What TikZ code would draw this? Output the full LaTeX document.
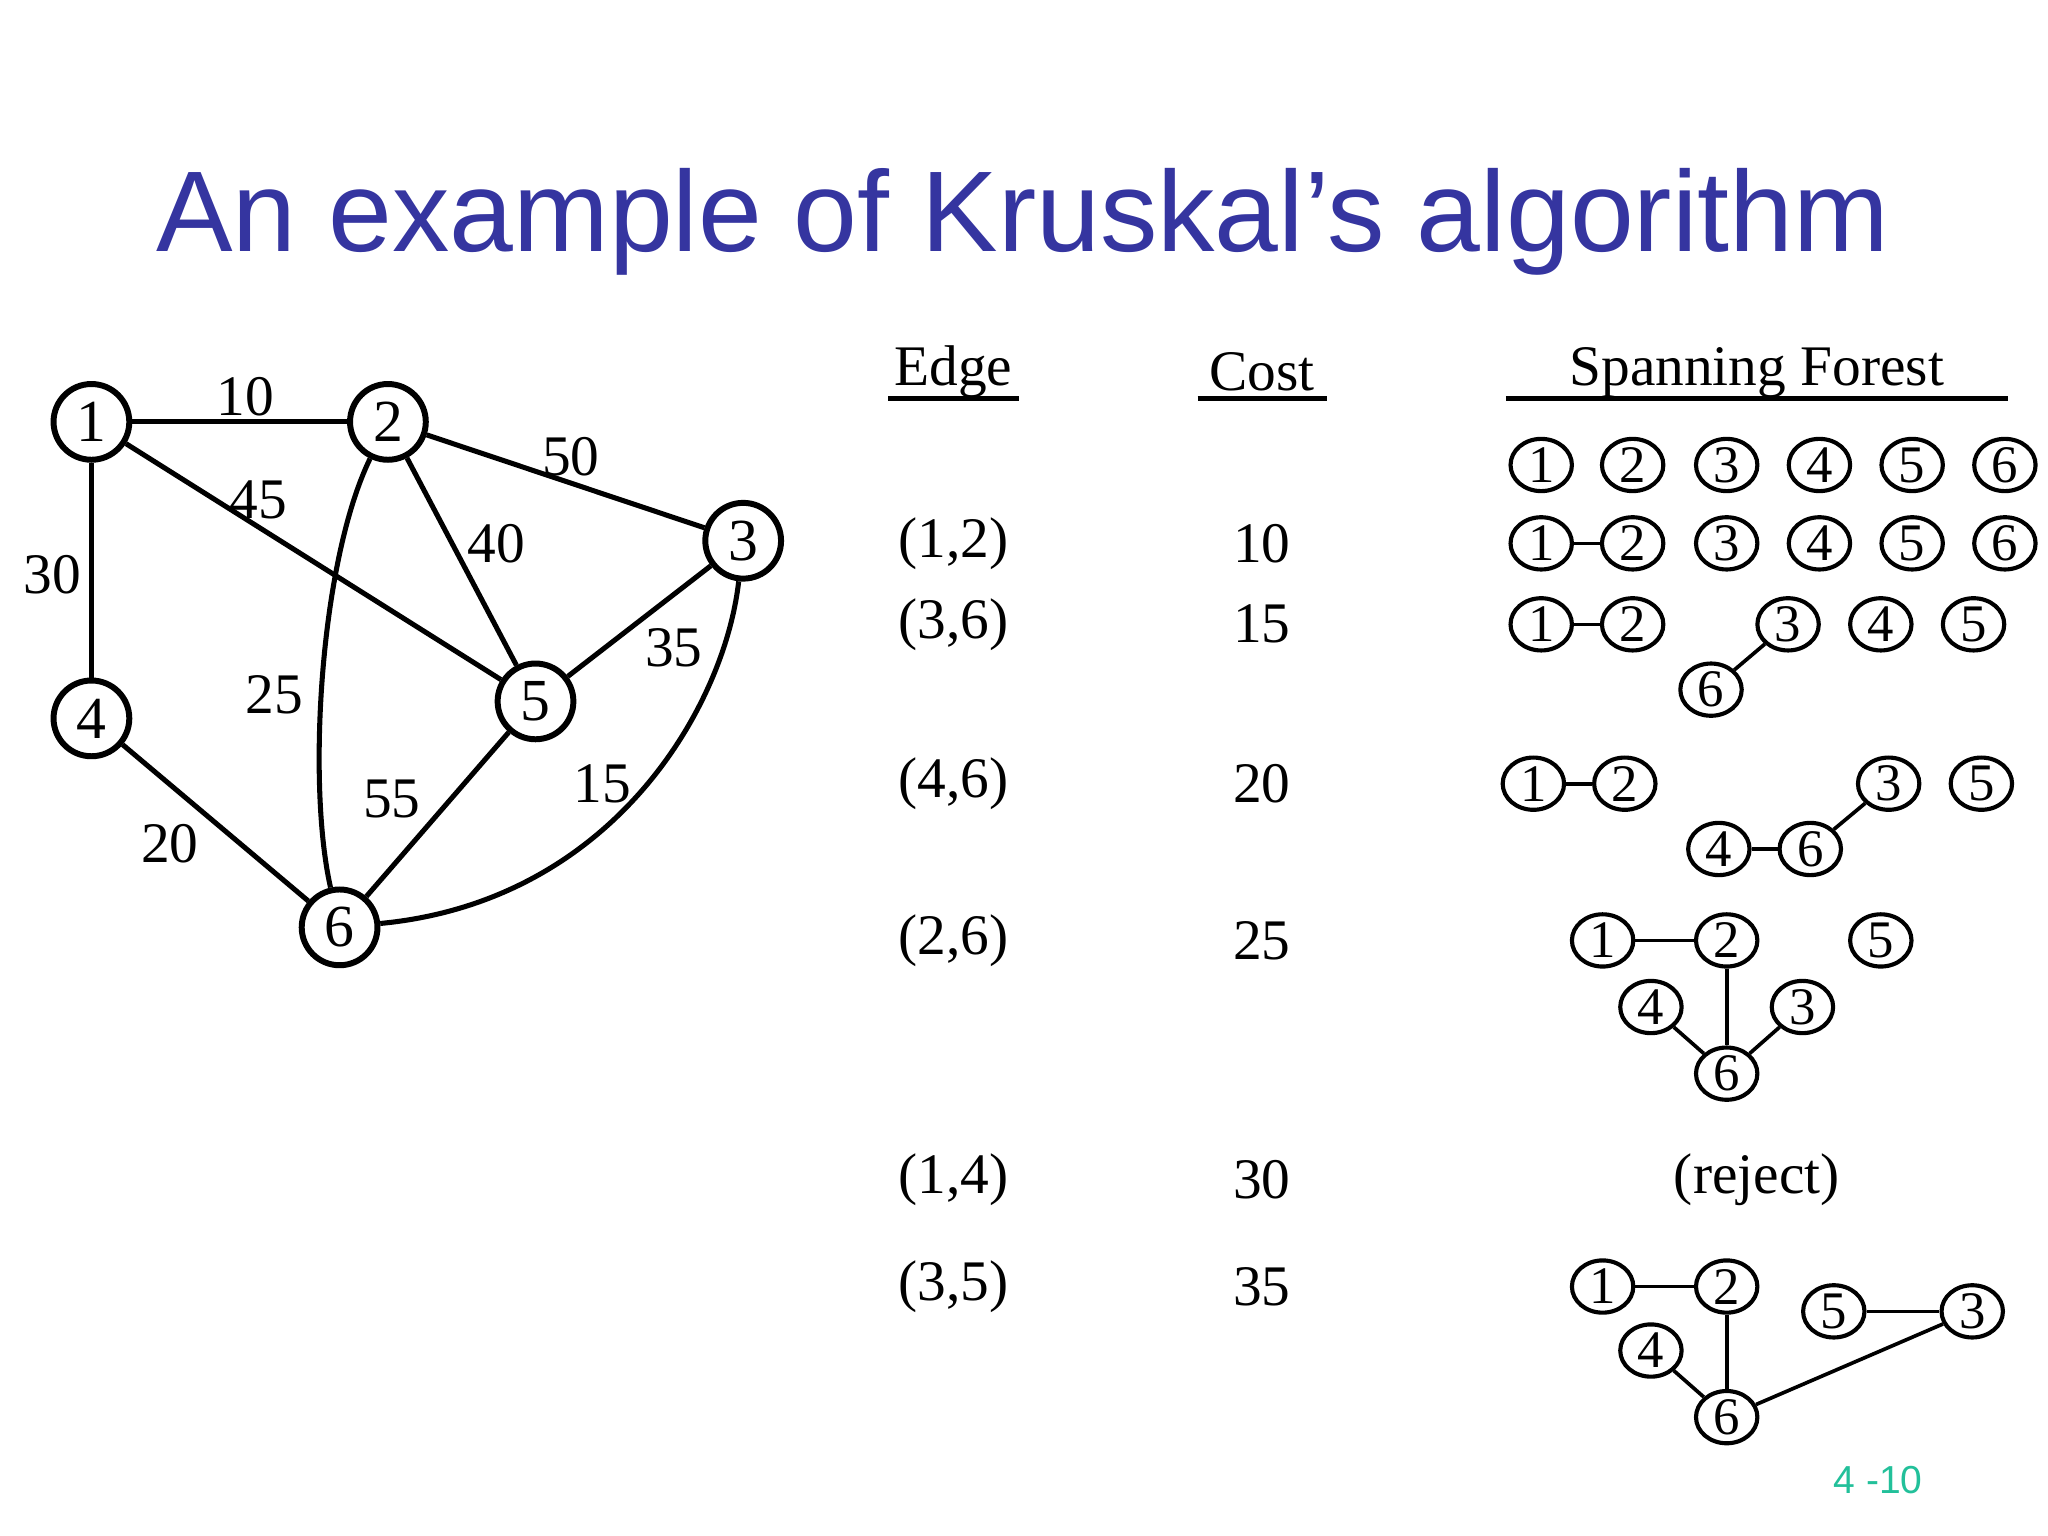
\documentclass[tikz,border=0pt]{standalone}
\usepackage{fontspec}
\usetikzlibrary{shapes.geometric}
\setmainfont{Liberation Serif}
\newfontfamily\titlefont{Liberation Sans}
\definecolor{titleblue}{HTML}{3535A0}
\definecolor{pagegreen}{HTML}{22C09A}
\begin{document}
\begin{tikzpicture}[x=0.1mm,y=-0.1mm,
  gnode/.style={circle,draw,line width=1.3pt,minimum size=5.8mm,inner sep=0pt,font=\fontsize{13}{13}\selectfont},
  gedge/.style={line width=1.1pt},
  wlab/.style={font=\fontsize{12.5}{13}\selectfont},
  fnode/.style={ellipse,draw,line width=0.9pt,minimum width=4.7mm,minimum height=4.0mm,inner sep=0pt,font=\fontsize{11.5}{12}\selectfont},
  fedge/.style={line width=0.8pt},
  ttext/.style={font=\fontsize{12.5}{13}\selectfont},
  hdr/.style={font=\fontsize{12.5}{13}\selectfont}]
\useasboundingbox (0,0) rectangle (1568,1176);
\fill[white] (0,0) rectangle (1568,1176);
\node[text=titleblue,font=\titlefont\fontsize{25}{26}\selectfont] (title) at (783,170) {An example of Kruskal’s algorithm};
% graph
\node[gnode] (g1) at (70,323) {1};
\node[gnode] (g2) at (297,323) {2};
\node[gnode] (g3) at (569,414) {3};
\node[gnode] (g4) at (70,550) {4};
\node[gnode] (g5) at (410,537) {5};
\node[gnode] (g6) at (260,710) {6};
\draw[gedge] (g1) -- (g2);
\draw[gedge] (g2) -- (g3);
\draw[gedge] (g1) -- (g5);
\draw[gedge] (g2) -- (g5);
\draw[gedge] (g1) -- (g4);
\draw[gedge] (g5) -- (g3);
\draw[gedge] (g5) -- (g6);
\draw[gedge] (g4) -- (g6);
\draw[gedge] (g2) .. controls (245,430) and (235,600) .. (g6);
\draw[gedge] (g3) .. controls (555,540) and (470,690) .. (g6);
\node[wlab] (w10) at (188,304) {10};
\node[wlab] (w50) at (437,350) {50};
\node[wlab] (w45) at (198,383) {45};
\node[wlab] (w40) at (380,416) {40};
\node[wlab] (w30) at (40,440) {30};
\node[wlab] (w25) at (210,532) {25};
\node[wlab] (w35) at (516,496) {35};
\node[wlab] (w55) at (300,612) {55};
\node[wlab] (w15) at (461,600) {15};
\node[wlab] (w20) at (130,646) {20};
% headers
\node[hdr] (hE) at (730,285) {Edge};
\node[hdr] (hC) at (966,285) {Cost};
\node[hdr] (hS) at (1345,285) {Spanning Forest};
\draw[line width=1.2pt] (680,305) -- (780,305);
\draw[line width=1.2pt] (917,305) -- (1016,305);
\draw[line width=1.2pt] (1153,305) -- (1537,305);
% rows
\foreach \e/\c/\y [count=\i] in {(1{,}2)/10/416,(3{,}6)/15/478,(4{,}6)/20/600,(2{,}6)/25/720,(1{,}4)/30/903,(3{,}5)/35/985}{
  \node[ttext] (e\i) at (730,\y) {\e};
  \node[ttext] (c\i) at (966,\y) {\c};
}
% row 0
\foreach \n/\x in {1/1180,2/1250,3/1322,4/1393,5/1464,6/1535}{\node[fnode] (a\n) at (\x,356) {\n};}
% row 1
\foreach \n/\x in {1/1180,2/1250,3/1322,4/1393,5/1464,6/1535}{\node[fnode] (b\n) at (\x,416) {\n};}
\draw[fedge] (b1) -- (b2);
% row 2
\node[fnode] (c1n) at (1180,478) {1};
\node[fnode] (c2n) at (1250,478) {2};
\node[fnode] (c3n) at (1369,478) {3};
\node[fnode] (c4n) at (1440,478) {4};
\node[fnode] (c5n) at (1511,478) {5};
\node[fnode] (c6n) at (1310,528) {6};
\draw[fedge] (c1n) -- (c2n);
\draw[fedge] (c3n) -- (c6n);
% row 3
\node[fnode] (d1) at (1174,600) {1};
\node[fnode] (d2) at (1244,600) {2};
\node[fnode] (d3) at (1446,600) {3};
\node[fnode] (d5) at (1517,600) {5};
\node[fnode] (d4) at (1316,650) {4};
\node[fnode] (d6) at (1386,650) {6};
\draw[fedge] (d1) -- (d2);
\draw[fedge] (d4) -- (d6);
\draw[fedge] (d6) -- (d3);
% row 4
\node[fnode] (f1) at (1227,720) {1};
\node[fnode] (f2) at (1322,720) {2};
\node[fnode] (f5) at (1440,720) {5};
\node[fnode] (f4) at (1264,771) {4};
\node[fnode] (f3) at (1380,771) {3};
\node[fnode] (f6) at (1322,822) {6};
\draw[fedge] (f1) -- (f2);
\draw[fedge] (f2) -- (f6);
\draw[fedge] (f4) -- (f6);
\draw[fedge] (f3) -- (f6);
% reject
\node[ttext] (rej) at (1345,903) {(reject)};
% row 6
\node[fnode] (h1) at (1227,985) {1};
\node[fnode] (h2) at (1322,985) {2};
\node[fnode] (h5) at (1404,1004) {5};
\node[fnode] (h3) at (1510,1004) {3};
\node[fnode] (h4) at (1264,1034) {4};
\node[fnode] (h6) at (1322,1085) {6};
\draw[fedge] (h1) -- (h2);
\draw[fedge] (h2) -- (h6);
\draw[fedge] (h4) -- (h6);
\draw[fedge] (h5) -- (h3);
\draw[fedge] (h6) -- (h3);
\node[text=pagegreen,font=\titlefont\fontsize{8.5}{9}\selectfont] (pg) at (1438,1133) {4 -10};
\end{tikzpicture}
\end{document}
